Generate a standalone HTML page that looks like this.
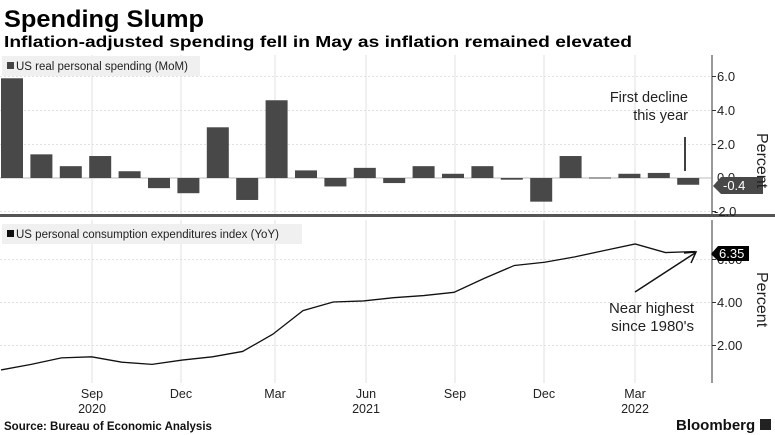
<!DOCTYPE html><html><head><style>body{margin:0;background:#fff}svg{display:block}text{font-family:"Liberation Sans",sans-serif}</style></head><body>
<svg width="775" height="435" xmlns="http://www.w3.org/2000/svg">
<text x="4" y="27" font-size="24" font-weight="bold" fill="#000" textLength="200" lengthAdjust="spacingAndGlyphs">Spending Slump</text>
<text x="4" y="47" font-size="16" font-weight="bold" fill="#000" textLength="628" lengthAdjust="spacingAndGlyphs">Inflation-adjusted spending fell in May as inflation remained elevated</text>
<g stroke="#e2e2e2" stroke-width="1">
<line x1="92" y1="55" x2="92" y2="214"/><line x1="181" y1="55" x2="181" y2="214"/><line x1="275" y1="55" x2="275" y2="214"/><line x1="366" y1="55" x2="366" y2="214"/><line x1="455" y1="55" x2="455" y2="214"/><line x1="544" y1="55" x2="544" y2="214"/><line x1="635" y1="55" x2="635" y2="214"/>
<line x1="92" y1="220" x2="92" y2="383"/><line x1="181" y1="220" x2="181" y2="383"/><line x1="275" y1="220" x2="275" y2="383"/><line x1="366" y1="220" x2="366" y2="383"/><line x1="455" y1="220" x2="455" y2="383"/><line x1="544" y1="220" x2="544" y2="383"/><line x1="635" y1="220" x2="635" y2="383"/>
</g>
<g stroke="#e2e2e2" stroke-dasharray="2,2">
<line x1="0" y1="76.5" x2="711" y2="76.5"/><line x1="0" y1="110.5" x2="711" y2="110.5"/><line x1="0" y1="144.5" x2="711" y2="144.5"/><line x1="0" y1="211.5" x2="711" y2="211.5"/>
<line x1="0" y1="259.5" x2="711" y2="259.5"/><line x1="0" y1="302.5" x2="711" y2="302.5"/><line x1="0" y1="345.5" x2="711" y2="345.5"/>
</g>
<line x1="0" y1="178" x2="711" y2="178" stroke="#bbb"/>
<rect x="2" y="56" width="198" height="20" fill="#f0f0f0"/>
<rect x="7" y="62" width="7" height="7" fill="#444"/>
<text x="16" y="70" font-size="11.5" fill="#222">US real personal spending (MoM)</text>
<g fill="#484848" id="bars"></g>
<line x1="685" y1="137" x2="685" y2="171" stroke="#000" stroke-width="1.5"/>
<text x="688" y="102" font-size="14.5" text-anchor="end" fill="#222">First decline</text>
<text x="688" y="120" font-size="14.5" text-anchor="end" fill="#222">this year</text>
<rect x="0" y="214" width="775" height="3" fill="#555"/>
<rect x="2" y="224" width="300" height="20" fill="#f0f0f0"/>
<rect x="7" y="230" width="7" height="7" fill="#111"/>
<text x="16" y="238" font-size="11.5" fill="#222">US personal consumption expenditures index (YoY)</text>
<polyline id="pce" fill="none" stroke="#111" stroke-width="1.3"/>
<line x1="635" y1="292" x2="695" y2="253" stroke="#111" stroke-width="1.5"/>
<polyline points="684,253 696,252 691,263" fill="none" stroke="#111" stroke-width="1.5"/>
<text x="694" y="313" font-size="15" text-anchor="end" fill="#222">Near highest</text>
<text x="694" y="331" font-size="15" text-anchor="end" fill="#222">since 1980's</text>
<line x1="712" y1="55" x2="712" y2="214" stroke="#333"/>
<line x1="712" y1="220" x2="712" y2="383" stroke="#333"/>
<g stroke="#333"><line x1="712" y1="76.5" x2="716" y2="76.5"/><line x1="712" y1="110.5" x2="716" y2="110.5"/><line x1="712" y1="144.5" x2="716" y2="144.5"/><line x1="712" y1="211.5" x2="716" y2="211.5"/>
<line x1="712" y1="259.5" x2="716" y2="259.5"/><line x1="712" y1="302.5" x2="716" y2="302.5"/><line x1="712" y1="345.5" x2="716" y2="345.5"/></g>
<g font-size="13" fill="#222">
<text x="717" y="81">6.0</text><text x="717" y="115">4.0</text><text x="717" y="149">2.0</text><text x="717" y="182">0.0</text><text x="714" y="216">-2.0</text>
<text x="717" y="264">6.00</text><text x="717" y="307">4.00</text><text x="717" y="350">2.00</text>
</g>
<polygon points="713,186 721,177 763,177 763,194 721,194" fill="#484848"/>
<text x="723" y="190" font-size="13" fill="#fff">-0.4</text>
<polygon points="711,254 718,246 749,246 749,261 718,261" fill="#000"/>
<text x="719" y="258" font-size="13" fill="#fff">6.35</text>
<text font-size="16" fill="#222" transform="translate(757,133) rotate(90)">Percent</text>
<text font-size="16" fill="#222" transform="translate(757,272) rotate(90)">Percent</text>
<g font-size="12.5" fill="#222" text-anchor="middle">
<text x="92" y="398">Sep</text><text x="92" y="413">2020</text><text x="181" y="398">Dec</text><text x="275" y="398">Mar</text><text x="366" y="398">Jun</text><text x="366" y="413">2021</text><text x="455" y="398">Sep</text><text x="544" y="398">Dec</text><text x="635" y="398">Mar</text><text x="635" y="413">2022</text>
</g>
<text x="4" y="430" font-size="11.5" font-weight="bold" fill="#111">Source: Bureau of Economic Analysis</text>
<text x="676" y="430" font-size="15" font-weight="bold" fill="#111">Bloomberg</text>
<rect x="760" y="419" width="11" height="11" fill="#222"/>
</svg>
<script>
var v=[5.9,1.4,0.7,1.3,0.4,-0.6,-0.9,3.0,-1.3,4.6,0.45,-0.5,0.6,-0.3,0.7,0.25,0.7,-0.1,-1.4,1.3,0.03,0.25,0.3,-0.4];
var g=document.getElementById('bars'),s='';
v.forEach(function(d,i){var x=1+29.4*i,h=Math.abs(d)*16.9,y=d>0?178-h:178;s+='<rect x="'+x+'" y="'+y+'" width="22" height="'+Math.max(h,1)+'"/>';});
g.innerHTML=s;
var p=[0.84,1.1,1.4,1.45,1.2,1.1,1.3,1.45,1.7,2.5,3.6,4.0,4.05,4.2,4.3,4.45,5.1,5.7,5.85,6.1,6.4,6.7,6.3,6.35];
document.getElementById('pce').setAttribute('points',p.map(function(d,i){return (1+30.2*i)+','+(388-d*21.5)}).join(' '));
</script>
</body></html>
